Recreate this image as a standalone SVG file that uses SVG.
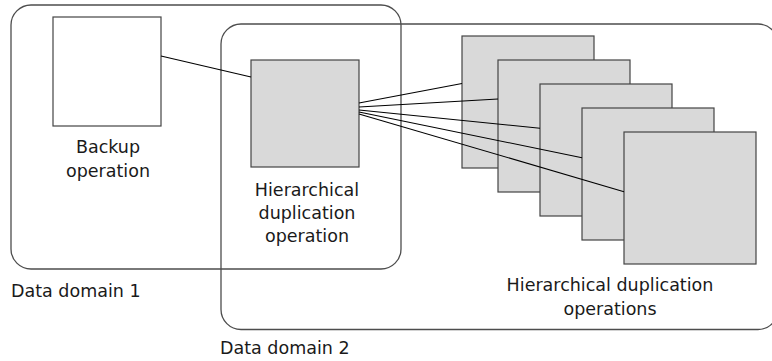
<svg xmlns="http://www.w3.org/2000/svg" width="772" height="361" viewBox="0 0 772 361">
<style>
.dom{fill:none;stroke:#4d4d4d;stroke-width:1.3}
.box{stroke:#444;stroke-width:1.2}
.white{fill:#fff}
.gray{fill:#d9d9d9}
.lbl{font-family:"DejaVu Sans",sans-serif;font-size:17.5px;fill:#1a1a1a}
.mid{text-anchor:middle}
.con{stroke:#000;stroke-width:1.1;fill:none}
</style>
<rect width="772" height="361" fill="#fff"/>
<g id="domain1">
<rect class="dom" x="11" y="5" width="390" height="264" rx="20"/>
<text class="lbl" x="11" y="297">Data domain 1</text>
</g>
<g id="domain2">
<rect class="dom" x="221" y="24" width="557" height="305.5" rx="20"/>
<text class="lbl" x="220" y="354">Data domain 2</text>
</g>
<g id="backup">
<rect class="box white" x="53" y="17" width="108" height="109"/>
<text class="lbl mid" x="108" y="153">Backup</text>
<text class="lbl mid" x="108" y="177">operation</text>
</g>
<g id="hier">
<rect class="box gray" x="251" y="60" width="108" height="107"/>
<text class="lbl mid" x="307" y="196">Hierarchical</text>
<text class="lbl mid" x="307" y="219">duplication</text>
<text class="lbl mid" x="307" y="242">operation</text>
</g>
<g id="ops">
<rect class="box gray" x="462" y="36" width="132" height="132"/>
<rect class="box gray" x="498" y="60" width="132" height="132"/>
<rect class="box gray" x="540" y="84" width="132" height="132"/>
<rect class="box gray" x="582" y="108" width="132" height="132"/>
<rect class="box gray" x="624" y="132" width="132" height="132"/>
<text class="lbl mid" x="610" y="291">Hierarchical duplication</text>
<text class="lbl mid" x="610" y="315">operations</text>
</g>
<g id="connectors">
<line class="con" x1="161" y1="56" x2="251" y2="77"/>
<line class="con" x1="359" y1="103" x2="462" y2="83.5"/>
<line class="con" x1="359" y1="107" x2="498" y2="99"/>
<line class="con" x1="359" y1="110" x2="540" y2="128.3"/>
<line class="con" x1="359" y1="112" x2="582" y2="157.7"/>
<line class="con" x1="359" y1="114" x2="624" y2="191.7"/>
</g>
</svg>
